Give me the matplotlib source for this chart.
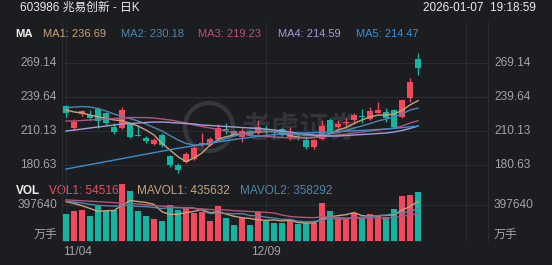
import matplotlib.pyplot as plt
from matplotlib.patches import Ellipse
from matplotlib.transforms import blended_transform_factory

plt.rcParams['font.family'] = ['Liberation Sans', 'Noto Sans CJK SC', 'DejaVu Sans']

# --- data (45 daily candles, 2025-11-04 .. 2026-01-07) ---
opens = [232.1, 213.2, 225.1, 224.5, 229.2, 226.0, 213.6, 212.6, 217.0, 207.0,
         204.4, 198.9, 206.8, 188.5, 180.6, 183.5, 185.6, 198.5, 198.5, 203.0,
         212.0, 210.5, 204.8, 210.3, 208.3, 212.0, 210.0, 212.0, 205.0, 205.0,
         202.4, 196.0, 203.0, 220.0, 213.5, 217.0, 220.0, 223.5, 220.5, 226.2,
         227.1, 228.6, 222.2, 239.3, 272.8]
highs = [233.0, 220.5, 228.6, 228.6, 231.5, 227.1, 217.0, 231.5, 218.3, 215.5,
         205.9, 204.4, 208.2, 189.4, 182.6, 191.6, 197.4, 208.3, 205.0, 216.5,
         217.0, 211.5, 212.6, 211.5, 219.9, 215.5, 211.1, 213.5, 214.0, 208.3,
         205.0, 203.5, 219.5, 221.5, 219.9, 221.3, 226.2, 229.2, 231.5, 235.9,
         230.0, 229.2, 237.5, 256.2, 278.0]
lows = [222.8, 211.1, 223.4, 219.6, 212.6, 215.5, 207.4, 211.7, 204.4, 205.5,
        200.1, 198.1, 196.6, 179.2, 173.4, 182.6, 185.0, 196.6, 197.0, 202.0,
        208.0, 206.0, 200.9, 205.5, 206.8, 207.5, 204.0, 206.0, 202.5, 202.0,
        195.0, 194.5, 202.4, 208.5, 212.6, 212.6, 217.0, 217.0, 219.9, 225.6,
        218.4, 213.0, 221.5, 235.9, 259.1]
closes = [226.2, 218.4, 227.7, 222.0, 219.3, 217.5, 209.7, 228.6, 205.3, 206.2,
          201.5, 202.4, 198.1, 180.6, 176.3, 190.0, 195.8, 199.5, 203.0, 213.3,
          210.8, 207.0, 210.3, 206.3, 213.9, 211.0, 209.0, 207.0, 208.0, 204.0,
          196.6, 202.4, 214.5, 209.0, 216.5, 218.3, 224.2, 222.3, 227.7, 228.6,
          221.3, 213.5, 237.3, 252.7, 265.0]

ma1 = [228.6, 226.9, 226.0, 224.2, 222.7, 221.2, 219.9, 219.3, 217.0, 214.6,
       211.1, 206.8, 199.5, 193.7, 187.9, 183.5, 186.7, 191.1, 198.1, 203.0,
       205.3, 206.8, 208.1, 208.8, 209.4, 209.7, 209.7, 208.5, 206.3, 205.0,
       204.2, 204.6, 206.3, 208.3, 211.1, 213.3, 216.8, 219.9, 222.5, 224.2,
       224.2, 225.1, 228.2, 233.0, 236.69]
ma2 = [230.3, 231.2, 231.6, 231.2, 229.9, 227.7, 225.1, 222.9, 221.2, 219.0,
       216.4, 213.3, 210.3, 206.3, 202.4, 199.4, 198.1, 198.1, 199.4, 201.5,
       203.7, 205.9, 207.6, 209.0, 209.8, 210.3, 209.8, 209.0, 208.1, 207.2,
       206.3, 206.3, 206.8, 207.6, 209.0, 210.7, 212.9, 214.6, 216.8, 219.0,
       220.7, 222.5, 225.1, 228.6, 230.18]
ma3 = [219.0, 219.0, 219.4, 219.9, 220.3, 220.7, 221.2, 221.6, 222.0, 222.0,
       222.0, 221.6, 220.7, 219.9, 218.6, 217.2, 215.5, 214.2, 212.9, 211.6,
       210.3, 209.0, 207.6, 206.8, 205.9, 205.5, 205.1, 204.6, 204.2, 204.2,
       204.2, 204.6, 205.1, 205.9, 206.8, 207.6, 208.5, 209.4, 210.3, 211.1,
       212.0, 212.9, 214.6, 217.2, 219.23]
ma4 = [210.3, 211.1, 212.0, 212.9, 213.8, 214.6, 215.5, 216.4, 216.8, 217.2,
       217.7, 218.1, 218.1, 217.7, 217.2, 216.8, 216.4, 215.5, 215.1, 214.6,
       214.2, 213.8, 213.3, 212.9, 212.5, 212.0, 211.1, 210.3, 209.4, 208.5,
       207.6, 206.8, 206.3, 205.9, 205.9, 206.3, 206.8, 207.2, 207.6, 208.1,
       208.5, 209.4, 210.7, 212.5, 214.59]
ma5 = [177.1, 178.4, 179.7, 181.0, 182.3, 183.6, 184.9, 186.2, 187.5, 188.8,
       190.1, 191.4, 192.7, 194.0, 195.2, 196.3, 197.4, 198.5, 199.6, 200.7,
       201.8, 202.8, 203.8, 204.7, 205.6, 206.4, 207.1, 207.6, 208.0, 208.3,
       208.6, 208.9, 209.2, 209.5, 209.8, 210.1, 210.4, 210.8, 211.2, 211.6,
       212.0, 212.6, 213.2, 213.9, 214.47]

volumes = [298600, 331800, 342900, 276500, 390400, 331800, 342900, 630400, 547500, 331800,
           276500, 240000, 221200, 398200, 342900, 368300, 306400, 324100, 224500, 387100,
           251100, 177000, 251100, 177000, 317400, 221200, 195800, 195800, 221200, 188000,
           195800, 195800, 423600, 335100, 251100, 251100, 313000, 251100, 298600, 287600,
           262100, 353900, 501000, 508800, 545161]
mavol1 = [435000, 415000, 390000, 360000, 328000, 334700, 336900, 394400, 448600, 436900,
          425800, 405200, 323400, 293500, 295800, 314100, 327400, 348000, 313200, 322100,
          298600, 272800, 258200, 248700, 234700, 228700, 232500, 221400, 230300, 204400,
          199300, 199300, 244900, 267700, 280300, 291300, 314800, 280300, 273000, 280300,
          282500, 290700, 340600, 382700, 435632]
mavol2 = [440000, 430000, 420000, 405000, 395000, 390000, 385000, 390000, 395000, 382500,
          380300, 371100, 358900, 371100, 366300, 370000, 366300, 335700, 303400, 308900,
          306400, 300100, 303100, 281000, 278400, 263700, 252600, 239800, 239500, 219600,
          214000, 215900, 233200, 249000, 242300, 245300, 257100, 262600, 270300, 280300,
          286900, 302700, 310500, 327800, 358292]
mavol3 = [455000, 450000, 445000, 440000, 435000, 430000, 425000, 420000, 415000, 410000,
          400000, 392000, 385000, 380000, 372000, 366000, 360000, 355000, 348000, 345700,
          343300, 335600, 331000, 326000, 322400, 316800, 309500, 287700, 271400, 264200,
          260200, 258000, 268100, 265000, 260400, 254500, 254800, 251200, 254900, 249900,
          250500, 259300, 271800, 288400, 299800]

price_ticks = [269.14, 239.64, 210.13, 180.63]
vol_tick = 397640
date_labels = {0: '11/04', 25: '12/09'}
grid_days = [0, 25, 50]

BG = '#1c1d21'
UP = '#f2495e'
DOWN = '#14b4a3'
GRID = '#2c2d32'
LABEL = '#a3a3a3'
MA_COLORS = ['#c9a27c', '#4f86a8', '#b5527e', '#a29dd6', '#3a8fd0']

W, H = 552, 265


def fx(px):
    return px / W


def fy(py):
    return 1 - py / H


fig = plt.figure(figsize=(W / 100, H / 100), dpi=100, facecolor=BG)
ax = fig.add_axes([fx(62), fy(178), fx(488) - fx(62), fy(22) - fy(178)])
axv = fig.add_axes([fx(62), fy(241), fx(488) - fx(62), fy(180) - fy(241)])

x = list(range(len(closes)))
colors = [UP if c >= o else DOWN for o, c in zip(opens, closes)]

for a in (ax, axv):
    a.set_facecolor(BG)
    a.set_xlim(-0.5, 52.75)
    a.set_xticks([])
    a.set_yticks([])
    for s in ('top', 'bottom'):
        a.spines[s].set_visible(False)
    for s in ('left', 'right'):
        a.spines[s].set_color(GRID)
    for d in grid_days:
        a.axvline(d, color=GRID, lw=0.8, zorder=0)

ax.set_ylim(169.3, 305.3)
axv.set_ylim(0, 674660)

# price panel
tr = blended_transform_factory(ax.transAxes, ax.transData)
for v in price_ticks:
    ax.axhline(v, color=GRID, lw=0.8, zorder=0)
    ax.text(-0.012, v, f'{v:.2f}', transform=tr, ha='right', va='center', color=LABEL, fontsize=8.6)
    ax.text(1.014, v, f'{v:.2f}', transform=tr, ha='left', va='center', color=LABEL, fontsize=8.6)

# watermark
ax.add_patch(Ellipse((fx(209), fy(127)), 48 / W, 48 / H, transform=fig.transFigure,
                     fill=False, edgecolor='#36373c', lw=3, zorder=0.5))
ax.text(fx(300), fy(129), '老虎证券', transform=fig.transFigure, ha='center', va='center',
        color='#333439', fontsize=21, fontweight='bold', zorder=0.5)

bottoms = [min(o, c) for o, c in zip(opens, closes)]
heights = [max(abs(c - o), 0.9) for o, c in zip(opens, closes)]
ax.vlines(x, lows, highs, colors=colors, lw=1, zorder=3)
ax.bar(x, heights, bottom=bottoms, width=0.72, color=colors, lw=0, zorder=4)

for vals, col in zip([ma1, ma2, ma3, ma4, ma5], MA_COLORS):
    ax.plot(x, vals, color=col, lw=1, zorder=5)

# volume panel
axv.axhline(vol_tick, color=GRID, lw=0.8, zorder=0)
axv.axhline(0, color=GRID, lw=0.8, zorder=0)
trv = blended_transform_factory(axv.transAxes, axv.transData)
axv.text(-0.012, vol_tick, str(vol_tick), transform=trv, ha='right', va='center', color=LABEL, fontsize=8.6)
axv.text(1.014, vol_tick, str(vol_tick), transform=trv, ha='left', va='center', color=LABEL, fontsize=8.6)
axv.text(-0.012, 0.08, '万手', transform=axv.transAxes, ha='right', va='center', color=LABEL, fontsize=8.6)
axv.text(1.014, 0.08, '万手', transform=axv.transAxes, ha='left', va='center', color=LABEL, fontsize=8.6)

axv.bar(x, volumes, width=0.72, color=colors, lw=0, zorder=3)
axv.plot(x, mavol1, color=MA_COLORS[0], lw=1, zorder=4)
axv.plot(x, mavol2, color=MA_COLORS[1], lw=1, zorder=4)
axv.plot(x, mavol3, color=MA_COLORS[2], lw=1, zorder=4)

trd = blended_transform_factory(axv.transData, axv.transAxes)
for d, lab in date_labels.items():
    if d == 0:
        axv.text(d - 0.4, -0.18, lab, transform=trd, ha='left', va='center', color=LABEL, fontsize=8.6)
    else:
        axv.text(d, -0.18, lab, transform=trd, ha='center', va='center', color=LABEL, fontsize=8.6)

# volume legend (bars are drawn over it)
vy = (241 - 191.5) / 61
axv.text((16 - 62) / 426, vy, 'VOL', transform=axv.transAxes,
         color='#f0f0f0', fontsize=8.5, fontweight='bold', va='center', zorder=1, clip_on=False)
for px, txt, col in [(49, f'VOL1: {volumes[-1]}', UP),
                     (137, f'MAVOL1: {mavol1[-1]}', MA_COLORS[0]),
                     (240, f'MAVOL2: {mavol2[-1]}', MA_COLORS[1])]:
    axv.text((px - 62) / 426, vy, txt, transform=axv.transAxes, color=col, fontsize=8.5,
             va='center', zorder=1, clip_on=False)

# header
fig.text(fx(20), fy(8), '603986 兆易创新 - 日K', color='#ececec', fontsize=8.5, va='center')
fig.text(fx(536), fy(8), '2026-01-07  19:18:59', color='#ececec', fontsize=8.5, va='center', ha='right')
fig.text(fx(15), fy(34), 'MA', color='#f0f0f0', fontsize=8.2, fontweight='bold', va='center')
ma_vals = [ma1[-1], ma2[-1], ma3[-1], ma4[-1], ma5[-1]]
for i, (px, val, col) in enumerate(zip([43, 121, 198, 278, 356], ma_vals, MA_COLORS)):
    fig.text(fx(px), fy(34), f'MA{i + 1}: {val:.2f}', color=col, fontsize=8, va='center')

fig.savefig('out.png', dpi=100, facecolor=BG)
